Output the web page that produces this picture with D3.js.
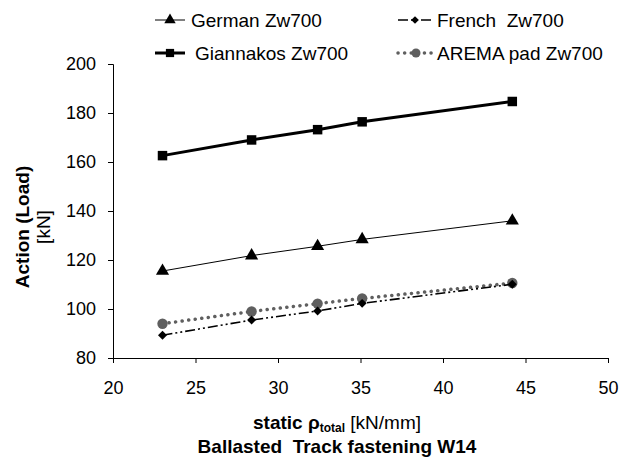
<!DOCTYPE html>
<html>
<head>
<meta charset="utf-8">
<script src="https://cdn.jsdelivr.net/npm/d3@7"></script>
<style>
  body { margin: 0; background: #fff; }
  svg text { font-family: "Liberation Sans", Arial, sans-serif; white-space: pre; }
</style>
</head>
<body>
<svg id="chart" width="632" height="459"></svg>
<script>
// data
const stiffness = [23.0, 28.4, 32.4, 35.1, 44.2];
const germanZw700 = [115.5, 121.8, 125.6, 128.4, 136.0];
const frenchZw700 = [89.3, 95.5, 99.2, 102.3, 110.1];
const giannakosZw700 = [162.6, 169.0, 173.2, 176.4, 184.7];
const aremaPadZw700 = [94.0, 99.0, 102.2, 104.3, 110.6];
const xTicks = [20, 25, 30, 35, 40, 45, 50];
const yTicks = [80, 100, 120, 140, 160, 180, 200];

const margin = {top: 64, right: 24, bottom: 101, left: 113};
const width = 632 - margin.left - margin.right;
const height = 459 - margin.top - margin.bottom;

const svg = d3.select("svg#chart");
const g = svg.append("g")
    .attr("transform", "translate(" + margin.left + "," + margin.top + ")");

const xScale = d3.scaleLinear().domain([20, 50]).range([0, width]);
const yScale = d3.scaleLinear().domain([80, 200]).range([height, 0]);

// axes
const yAxis = g.append("g")
    .call(d3.axisLeft(yScale).tickValues(yTicks).tickSize(5).tickPadding(12));
const xAxis = g.append("g")
    .attr("transform", "translate(0," + height + ")")
    .call(d3.axisBottom(xScale).tickValues(xTicks).tickSize(5).tickPadding(18));

[yAxis, xAxis].forEach(ax => {
    ax.select(".domain").attr("stroke", "#000").attr("stroke-width", 1);
    ax.selectAll(".tick line").attr("stroke", "#000");
    ax.selectAll(".tick text")
        .attr("font-size", "18px")
        .attr("fill", "#000")
        .style("font-family", "Liberation Sans, Arial, sans-serif");
});

const series = [
    {name: "German Zw700", values: germanZw700, color: "#000", width: 1, dash: null, marker: "triangle", msize: 75, mfill: "#000"},
    {name: "French  Zw700", values: frenchZw700, color: "#000", width: 1.6, dash: "10,3,2,3,2,3", marker: "diamond", msize: 40, mfill: "#000"},
    {name: "Giannakos Zw700", values: giannakosZw700, color: "#000", width: 3, dash: null, marker: "square", msize: 90, mfill: "#000"},
    {name: "AREMA pad Zw700", values: aremaPadZw700, color: "#5f5f5f", width: 3.5, dash: "0.1,6.5", marker: "circle", msize: 85, mfill: "#5f5f5f"}
];

// diamond drawn as a square turned 45 degrees (wider than d3's own diamond)
const symbolType = {
    triangle: d3.symbolTriangle,
    diamond: d3.symbolSquare,
    square: d3.symbolSquare,
    circle: d3.symbolCircle
};
const symbolRot = m => m === "diamond" ? " rotate(45)" : "";

const line = d3.line()
    .x((d, i) => xScale(stiffness[i]))
    .y(d => yScale(d));

const drawOrder = [3, 1, 0, 2];
drawOrder.forEach(k => {
    const s = series[k];
    g.append("path")
        .datum(s.values)
        .attr("fill", "none")
        .attr("stroke", s.color)
        .attr("stroke-width", s.width)
        .attr("stroke-linecap", s.marker === "circle" ? "round" : "butt")
        .attr("stroke-dasharray", s.dash)
        .attr("d", line);
    g.selectAll(null)
        .data(s.values)
        .enter().append("path")
        .attr("transform", (d, i) => "translate(" + xScale(stiffness[i]) + "," + yScale(d) + ")" + symbolRot(s.marker))
        .attr("d", d3.symbol().type(symbolType[s.marker]).size(s.msize))
        .attr("fill", s.mfill);
});

// legend
const legendPos = [
    {x: 155, y: 20, tx: 36, len: 30, mx: 15},
    {x: 398, y: 20, tx: 39, len: 36, mx: 17},
    {x: 155, y: 53, tx: 40, len: 30, mx: 15},
    {x: 398, y: 53, tx: 39, len: 37, mx: 18}
];
series.forEach((s, k) => {
    const p = legendPos[k];
    const lg = svg.append("g").attr("transform", "translate(" + p.x + "," + p.y + ")");
    lg.append("line")
        .attr("x1", 0).attr("x2", p.len)
        .attr("y1", 0).attr("y2", 0)
        .attr("stroke", s.color)
        .attr("stroke-width", s.width)
        .attr("stroke-linecap", s.marker === "circle" ? "round" : "butt")
        .attr("stroke-dasharray", s.dash);
    lg.append("path")
        .attr("transform", "translate(" + p.mx + ",0)" + symbolRot(s.marker))
        .attr("d", d3.symbol().type(symbolType[s.marker]).size(s.msize * 0.75))
        .attr("fill", s.mfill);
    lg.append("text")
        .attr("x", p.tx)
        .attr("y", 7)
        .attr("font-size", "19px")
        .text(s.name);
});

// y title
const yTitle = svg.append("g").attr("transform", "translate(0,227)");
yTitle.append("text")
    .attr("transform", "translate(29,0) rotate(-90)")
    .attr("text-anchor", "middle")
    .attr("font-size", "19px")
    .attr("font-weight", "bold")
    .text("Action (Load)");
yTitle.append("text")
    .attr("transform", "translate(50,0) rotate(-90)")
    .attr("text-anchor", "middle")
    .attr("font-size", "19px")
    .text("[kN]");

// x title
const xt = svg.append("text")
    .attr("x", 337)
    .attr("y", 429)
    .attr("text-anchor", "middle")
    .attr("font-size", "19px");
xt.append("tspan").attr("font-weight", "bold").text("static \u03c1");
xt.append("tspan").attr("font-weight", "bold").attr("font-size", "12px").attr("dy", 3).text("total");
xt.append("tspan").attr("dy", -3).text(" [kN/mm]");

svg.append("text")
    .attr("x", 337)
    .attr("y", 453)
    .attr("text-anchor", "middle")
    .attr("font-size", "19px")
    .attr("font-weight", "bold")
    .text("Ballasted  Track fastening W14");
</script>
</body>
</html>
